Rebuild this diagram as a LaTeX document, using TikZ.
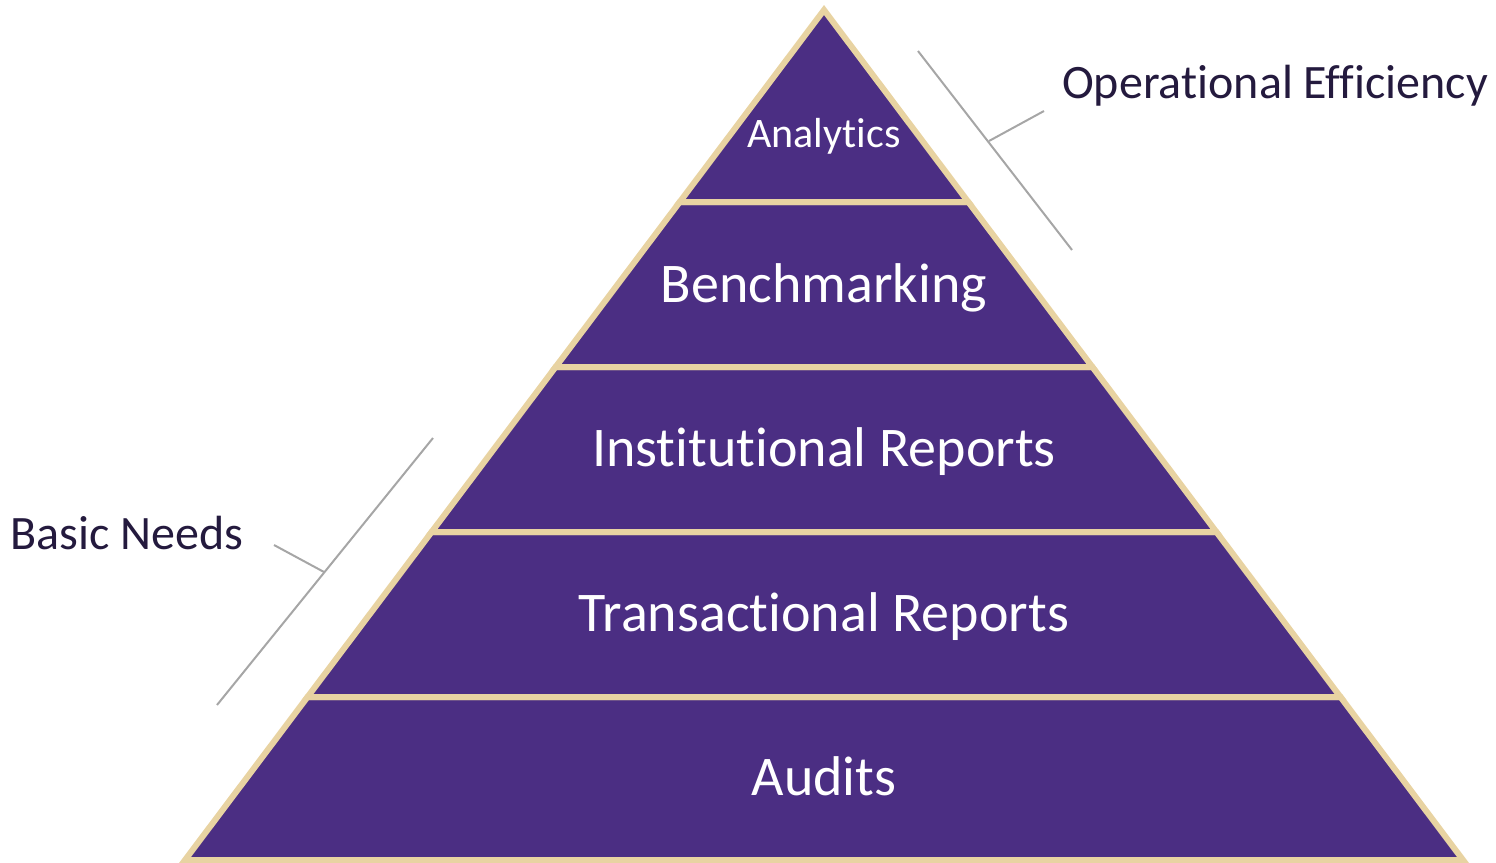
\documentclass[tikz,border=0pt]{standalone}
\usepackage{fontspec}
\setmainfont{Carlito}[Ligatures={NoCommon}]
\definecolor{uwpurple}{HTML}{4B2E83}
\definecolor{uwgold}{HTML}{E8D3A2}
\definecolor{darktext}{HTML}{241A3E}
\definecolor{bracketgray}{HTML}{A6A6A6}
\begin{document}
\begin{tikzpicture}[x=1pt,y=-1pt,
  layer/.style={fill=uwpurple,draw=uwgold,line width=6pt,line join=miter},
  layertext/.style={text=white,font=\fontsize{56}{60}\selectfont,anchor=base,inner sep=0pt},
  sidetext/.style={text=darktext,font=\fontsize{48}{52}\selectfont,anchor=base west,inner sep=0pt},
  bracket/.style={draw=bracketgray,line width=2pt}]
\useasboundingbox (0,0) rectangle (1496,862);
% layers (bottom to top)
\path[layer] (307.5,697) -- (1340.5,697) -- (1463,860) -- (185,860) -- cycle;
\path[layer] (431.6,532) -- (1216.4,532) -- (1340.5,697) -- (307.5,697) -- cycle;
\path[layer] (555.6,367) -- (1092.4,367) -- (1216.4,532) -- (431.6,532) -- cycle;
\path[layer] (679.7,202) -- (968.3,202) -- (1092.4,367) -- (555.6,367) -- cycle;
\path[layer] (824,10) -- (968.3,202) -- (679.7,202) -- cycle;
% labels
\node[layertext,font=\fontsize{42}{46}\selectfont] (analytics) at (824,147) {Analytics};
\node[layertext] (bench) at (824,302) {Benchmarking};
\node[layertext] (inst) at (824,466) {Institutional Reports};
\node[layertext] (trans) at (824,631) {Transactional Reports};
\node[layertext] (audits) at (824,795) {Audits};
% side labels
\node[sidetext] (oper) at (1062,98) {Operational Efficiency};
\node[sidetext] (basic) at (10,549) {Basic Needs};
% brackets
\coordinate (opA) at (918,51);
\coordinate (opB) at (1072,250);
\coordinate (opM) at (989,141);
\coordinate (opT) at (1044,111);
\draw[bracket] (opA) -- (opB);
\draw[bracket] (opM) -- (opT);
\coordinate (bnA) at (433,438);
\coordinate (bnB) at (217,705);
\coordinate (bnM) at (324,572);
\coordinate (bnT) at (274,545);
\draw[bracket] (bnA) -- (bnB);
\draw[bracket] (bnM) -- (bnT);
\end{tikzpicture}
\end{document}
